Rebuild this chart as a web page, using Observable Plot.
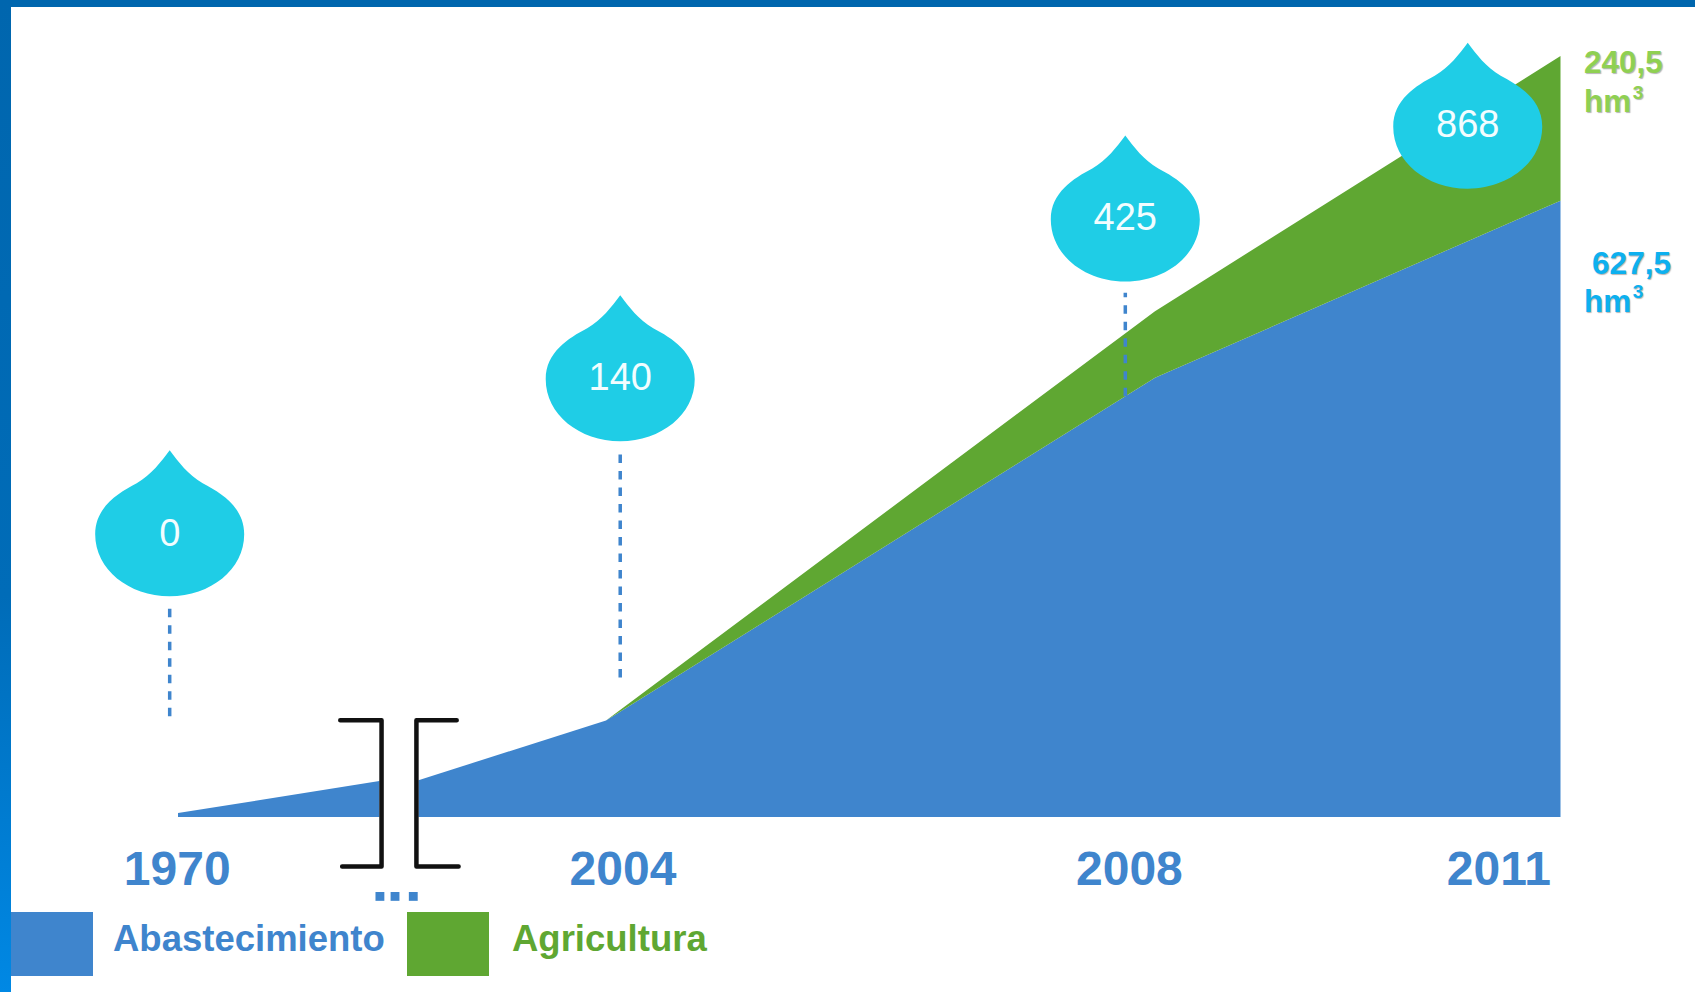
<!DOCTYPE html>
<html>
<head>
<meta charset="utf-8">
<script src="https://cdn.jsdelivr.net/npm/d3@7"></script>
<script src="https://cdn.jsdelivr.net/npm/@observablehq/plot@0.6"></script>
<style>
html,body{margin:0;padding:0;background:#fff;width:1695px;height:992px;overflow:hidden;font-family:"Liberation Sans",Arial,sans-serif}
#top{position:absolute;left:0;top:0;width:1695px;height:7px;background:#0066ae;z-index:5}
#left{position:absolute;left:0;top:0;width:11px;height:992px;background:linear-gradient(#0066ae,#006cb8 60%,#0088e4);z-index:5}
#chart svg{display:block;position:absolute;left:0;top:0}
.shadow text{text-shadow:1px 1px 1px #b5b5b5}
.sw{position:absolute;top:912px;height:64px;width:82px}
.lg{position:absolute;top:918px;font-weight:bold;font-size:36.5px;line-height:42px}
</style>
</head>
<body>
<div id="top"></div><div id="left"></div>
<div id="chart"></div>
<div class="sw" id="sw0" style="left:11px"></div>
<div class="lg" id="lg0" style="left:113px"></div>
<div class="sw" id="sw1" style="left:407px"></div>
<div class="lg" id="lg1" style="left:512px"></div>
<script>
// Colours
const blue = "#3f85cd", green = "#5fa732", dropColor = "#1fcde6";
const lightGreen = "#8fd052", lightBlue = "#0db0ef";

// Legend
const seriesNames = ["Abastecimiento", "Agricultura"];

// Area heights as drawn in the picture (the drawing is not to scale)
const areaYears   = [2004, 2008, 2011];
const supplyLevel = [110, 501, 703];
const totalLevel  = [110, 577, 868];
const earlyYears  = [1970, 1986];
const earlyLevel  = [4.5, 41];
const resumeYears = [1989.1, 2004];
const resumeLevel = [42, 110];

// Year labels
const tickYears  = [1970, 2004, 2008, 2011];
const tickLabels = ["1970", "2004", "2008", "2011"];
const tickAt     = [1969.9, 2004.12, 2007.81, 2010.54];

// Drops: cumulative value over each year
const dropValues = [0, 140, 425, 868];
const dropAt     = [1969.3, 2004.1, 2007.78, 2010.31];
const dropLevel  = [323, 500, 682, 788];
const labelShift = [0, 2, 2, 2];
const stemTop    = [238, 414, 598];
const stemBottom = [115, 159, 480];

// Axis break
const breakLeft  = [[1982.85, 111], [1986.13, 111], [1986.13, -56], [1983, -56]];
const breakRight = [[1992.1, 111], [1988.9, 111], [1988.9, -56], [1992.25, -56]];
const dotsAt = [1986, 1987.2, 1988.65];

// End labels
const endLines = [
  {t: "240,5", x: 2011.17, y: 861, c: lightGreen},
  {t: "hm",    x: 2011.17, y: 816, c: lightGreen},
  {t: "627,5", x: 2011.23, y: 632, c: lightBlue},
  {t: "hm",    x: 2011.17, y: 588, c: lightBlue}
];
const endSup = [
  {t: "3", x: 2011.53, y: 827, c: lightGreen},
  {t: "3", x: 2011.53, y: 599, c: lightBlue}
];

const dropSymbol = {
  draw(ctx, size) {
    const k = Math.sqrt(size / Math.PI) / 74.5;
    const P = (a, b, c, d, e, f) => ctx.bezierCurveTo(a*k, b*k, c*k, d*k, e*k, f*k);
    ctx.moveTo(0, -84*k);
    P(-9,-72,-18,-60,-33,-51);
    P(-52,-41,-74.5,-27,-74.5,0);
    P(-74.5,35,-41,62,0,62);
    P(41,62,74.5,35,74.5,0);
    P(74.5,-27,52,-41,33,-51);
    P(18,-60,9,-72,0,-84);
    ctx.closePath();
  }
};

const idx = a => a.map((_, i) => i);
const font = "Liberation Sans";

const plot = Plot.plot({
  width: 1695, height: 905,
  marginTop: 0, marginRight: 0, marginBottom: 0, marginLeft: 0,
  style: {background: "transparent", overflow: "visible"},
  x: {type: "linear", domain: tickYears, range: [178, 606, 1155, 1560.5], axis: null},
  y: {type: "linear", domain: [0, 868], range: [817, 56], axis: null},
  marks: [
    Plot.areaY(idx(earlyYears), {x: i => earlyYears[i], y1: 0, y2: i => earlyLevel[i], fill: blue}),
    Plot.areaY(idx(resumeYears), {x: i => resumeYears[i], y1: 0, y2: i => resumeLevel[i], fill: blue}),
    Plot.areaY(idx(areaYears), {x: i => areaYears[i], y1: 0, y2: i => supplyLevel[i], fill: blue}),
    Plot.areaY(idx(areaYears), {x: i => areaYears[i], y1: i => supplyLevel[i], y2: i => totalLevel[i], fill: green}),
    Plot.ruleX(idx(stemTop), {x: i => dropAt[i], y1: i => stemBottom[i], y2: i => stemTop[i],
      stroke: blue, strokeWidth: 3.5, strokeDasharray: "8.5 8"}),
    Plot.dot(idx(dropValues), {x: i => dropAt[i], y: i => dropLevel[i], r: 74.5, symbol: dropSymbol, fill: dropColor, stroke: "none"}),
    Plot.text(idx(dropValues), {x: i => dropAt[i], y: i => dropLevel[i] + labelShift[i], text: i => String(dropValues[i]),
      fill: "#f2fdff", fontSize: 38, fontFamily: font}),
    Plot.line(breakLeft, {x: d => d[0], y: d => d[1], stroke: "#111", strokeWidth: 4.5, strokeLinecap: "round", strokeLinejoin: "round"}),
    Plot.line(breakRight, {x: d => d[0], y: d => d[1], stroke: "#111", strokeWidth: 4.5, strokeLinecap: "round", strokeLinejoin: "round"}),
    Plot.dot(dotsAt, {x: d => d, y: -90, r: 5, symbol: "square", fill: blue, stroke: "none"}),
    Plot.text(idx(tickLabels), {x: i => tickAt[i], y: -59, text: i => tickLabels[i], fill: blue,
      fontSize: 48, fontWeight: "bold", fontFamily: font}),
    Plot.text(endLines, {x: "x", y: "y", text: "t", fill: "c", textAnchor: "start",
      fontSize: 31.5, fontWeight: "bold", fontFamily: font, className: "shadow"}),
    Plot.text(endSup, {x: "x", y: "y", text: "t", fill: "c", textAnchor: "start",
      fontSize: 19, fontWeight: "bold", fontFamily: font, className: "shadow"})
  ]
});
document.getElementById("chart").appendChild(plot);

[blue, green].forEach((c, i) => {
  document.getElementById("sw" + i).style.background = c;
  const l = document.getElementById("lg" + i);
  l.textContent = seriesNames[i];
  l.style.color = c;
});
</script>
</body>
</html>
